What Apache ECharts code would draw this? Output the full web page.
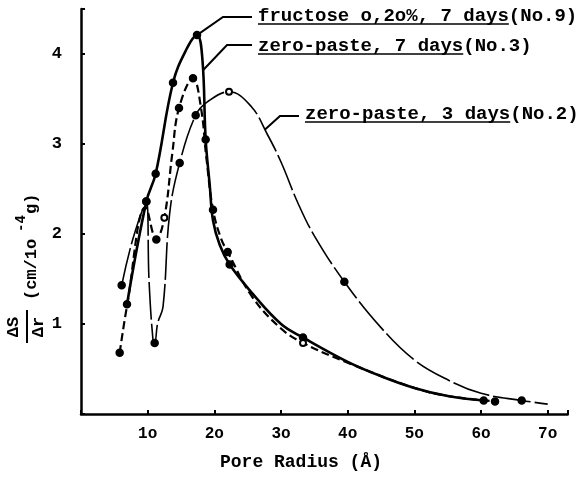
<!DOCTYPE html>
<html>
<head>
<meta charset="utf-8">
<script src="https://cdn.jsdelivr.net/npm/echarts@6/dist/echarts.min.js"></script>
<style>
html,body{margin:0;padding:0;background:#fff;}
#c{width:578px;height:481px;}
</style>
</head>
<body>
<div id="c"></div>
<script>
// ---- data ----
// fructose 0.20%, 7 days (No.9)  -- solid
const fructoseX = [6.9, 9.8, 11.2, 13.8, 15.8, 17.4, 18.2, 18.7, 19.3, 19.8, 20.8, 22.3, 25.7, 30, 33.3, 40, 45, 50, 55, 60.4];
const fructoseY = [1.22, 2.36, 2.67, 3.68, 4.05, 4.21, 3.95, 3.05, 2.55, 2.15, 1.88, 1.66, 1.34, 1.0, 0.85, 0.58, 0.42, 0.29, 0.2, 0.15];
const fructoseMark = [1, 1, 1, 1, 0, 1, 0, 1, 0, 0, 0, 1, 0, 0, 1, 0, 0, 0, 0, 1];

// zero-paste, 7 days (No.3) -- dashed
const paste7X = [5.8, 6.9, 9.7, 11.3, 12.5, 13.7, 14.7, 16.8, 18.0, 18.8, 19.8, 21.0, 22.0, 25.7, 30, 33.3, 40, 50, 55, 62.1];
const paste7Y = [0.68, 1.2, 2.3, 1.94, 2.18, 2.9, 3.40, 3.73, 3.4, 2.85, 2.27, 1.95, 1.80, 1.30, 0.95, 0.79, 0.57, 0.29, 0.2, 0.14];
const paste7Mark = [1, 0, 0, 1, 2, 0, 1, 1, 0, 0, 1, 0, 1, 0, 0, 2, 0, 0, 0, 1];

// zero-paste, 3 days (No.2) -- thin line
const paste3X = [6.1, 7.8, 9.8, 10.2, 10.8, 11.05, 11.5, 12.3, 13.3, 14.8, 17.2, 19.0, 22.2, 25.5, 28, 30, 32.5, 35, 39.5, 45, 50, 55, 60, 66.1, 70];
const paste3Y = [1.43, 1.95, 2.36, 1.49, 0.82, 0.79, 1.01, 1.19, 2.23, 2.79, 3.32, 3.47, 3.58, 3.42, 3.1, 2.8, 2.35, 1.98, 1.47, 0.96, 0.6, 0.38, 0.23, 0.15, 0.11];
const paste3Mark = [1, 0, 1, 0, 0, 1, 0, 0, 0, 1, 1, 0, 2, 0, 0, 0, 0, 0, 1, 0, 0, 0, 0, 1, 0];

const xTickLabels = {10: '1o', 20: '2o', 30: '3o', 40: '4o', 50: '5o', 60: '6o', 70: '7o'};
const yTickLabels = {1: '1', 2: '2', 3: '3', 4: '4'};

const seriesNames = ['fructose o,2o%, 7 days', 'zero-paste, 7 days', 'zero-paste, 3 days'];
const seriesTags = ['(No.9)', '(No.3)', '(No.2)'];
const xAxisTitle = 'Pore Radius (Å)';

// ---- chart ----
const FONT = '"Liberation Mono", "DejaVu Sans Mono", monospace';
function build(xs, ys, marks) {
  return xs.map((x, i) => ({
    value: [x, ys[i]],
    symbol: marks[i] === 0 ? 'none' : (marks[i] === 2 ? 'emptyCircle' : 'circle'),
    symbolSize: marks[i] === 2 ? 6 : 7
  }));
}
const chart = echarts.init(document.getElementById('c'), null, {renderer: 'canvas'});
const option = {
  animation: false,
  backgroundColor: '#fff',
  grid: {left: 81, right: 10.3, top: 9, bottom: 67, containLabel: false},
  xAxis: {
    type: 'value', min: 0, max: 73, interval: 10,
    axisLine: {lineStyle: {color: '#000', width: 2.5}},
    axisTick: {inside: true, length: 4, lineStyle: {color: '#000', width: 2}},
    splitLine: {show: false},
    axisLabel: {
      margin: 12, color: '#000', fontFamily: FONT, fontWeight: 'bold', fontSize: 16,
      formatter: v => xTickLabels[v] || ''
    }
  },
  yAxis: {
    type: 'value', min: 0, max: 4.5, interval: 1,
    axisLine: {lineStyle: {color: '#000', width: 2.5}},
    axisTick: {inside: true, length: 4, lineStyle: {color: '#000', width: 2}},
    splitLine: {show: false},
    axisLabel: {
      margin: 19, color: '#000', fontFamily: FONT, fontWeight: 'bold', fontSize: 17,
      formatter: v => yTickLabels[v] || ''
    }
  },
  series: [
    {
      name: seriesNames[0], type: 'line', smooth: 0.4,
      data: build(fructoseX, fructoseY, fructoseMark),
      lineStyle: {color: '#000', width: 2.6},
      itemStyle: {color: '#000', borderColor: '#000', borderWidth: 1.5},
      z: 3
    },
    {
      name: seriesNames[1], type: 'line', smooth: 0.4,
      data: build(paste7X, paste7Y, paste7Mark),
      lineStyle: {color: '#000', width: 2.2, type: [8, 4]},
      itemStyle: {color: '#000', borderColor: '#000', borderWidth: 1.5},
      z: 4
    },
    {
      name: seriesNames[2], type: 'line', smooth: 0.4,
      data: build(paste3X, paste3Y, paste3Mark),
      lineStyle: {color: '#000', width: 1.6, type: [38, 4]},
      itemStyle: {color: '#000', borderColor: '#000', borderWidth: 1.5},
      z: 5
    }
  ]
};
chart.setOption(option);

// ---- annotations ----
const mctx = document.createElement('canvas').getContext('2d');
const LABEL_FONT_SIZE = 19;
mctx.font = 'bold ' + LABEL_FONT_SIZE + 'px ' + FONT;
function tw(s) { return mctx.measureText(s).width; }

const g = [];
function label(idx, tx, ty, anchorData, elbow) {
  const p = chart.convertToPixel({gridIndex: 0}, anchorData);
  g.push({type: 'polyline', shape: {points: [p, elbow, [tx - 6, elbow[1]]]},
          style: {stroke: '#000', lineWidth: 2, fill: null}, z: 10});
  g.push({type: 'text', x: tx, y: ty, style: {
    text: seriesNames[idx] + seriesTags[idx], fill: '#000',
    font: 'bold ' + LABEL_FONT_SIZE + 'px ' + FONT, align: 'left', verticalAlign: 'middle'}, z: 10});
  const w = tw(seriesNames[idx]);
  g.push({type: 'line', shape: {x1: tx, y1: ty + 8, x2: tx + w, y2: ty + 8},
          style: {stroke: '#000', lineWidth: 1.6}, z: 10});
}
label(0, 258, 16, [fructoseX[5], fructoseY[5]], [223, 17]);
label(1, 258, 46, [18.3, 3.82], [227, 45]);
label(2, 305, 114, [27.6, 3.16], [280, 116]);

// x-axis title
g.push({type: 'text', x: 301, y: 462, style: {text: xAxisTitle, fill: '#000',
  font: 'bold 18px ' + FONT, align: 'center', verticalAlign: 'middle'}});

// y-axis title (rotated): fraction ΔS/Δr and (cm/1o^-4 g)
const yRot = Math.PI / 2;
g.push({type: 'text', x: 14, y: 327, rotation: yRot, style: {text: 'ΔS', fill: '#000',
  font: 'bold 17px ' + FONT, align: 'center', verticalAlign: 'middle'}});
g.push({type: 'line', shape: {x1: 27, y1: 310, x2: 27, y2: 343}, style: {stroke: '#000', lineWidth: 2}});
g.push({type: 'text', x: 39, y: 327, rotation: yRot, style: {text: 'Δr', fill: '#000',
  font: 'bold 17px ' + FONT, align: 'center', verticalAlign: 'middle'}});
g.push({type: 'text', x: 32, y: 300, rotation: yRot, style: {text: '(cm/1o', fill: '#000',
  font: 'bold 17px ' + FONT, align: 'left', verticalAlign: 'middle'}});
g.push({type: 'text', x: 21, y: 232, rotation: yRot, style: {text: '-4', fill: '#000',
  font: 'bold 14px ' + FONT, align: 'left', verticalAlign: 'middle'}});
g.push({type: 'text', x: 32, y: 214, rotation: yRot, style: {text: 'g)', fill: '#000',
  font: 'bold 17px ' + FONT, align: 'left', verticalAlign: 'middle'}});

chart.setOption({graphic: g});
</script>
</body>
</html>
